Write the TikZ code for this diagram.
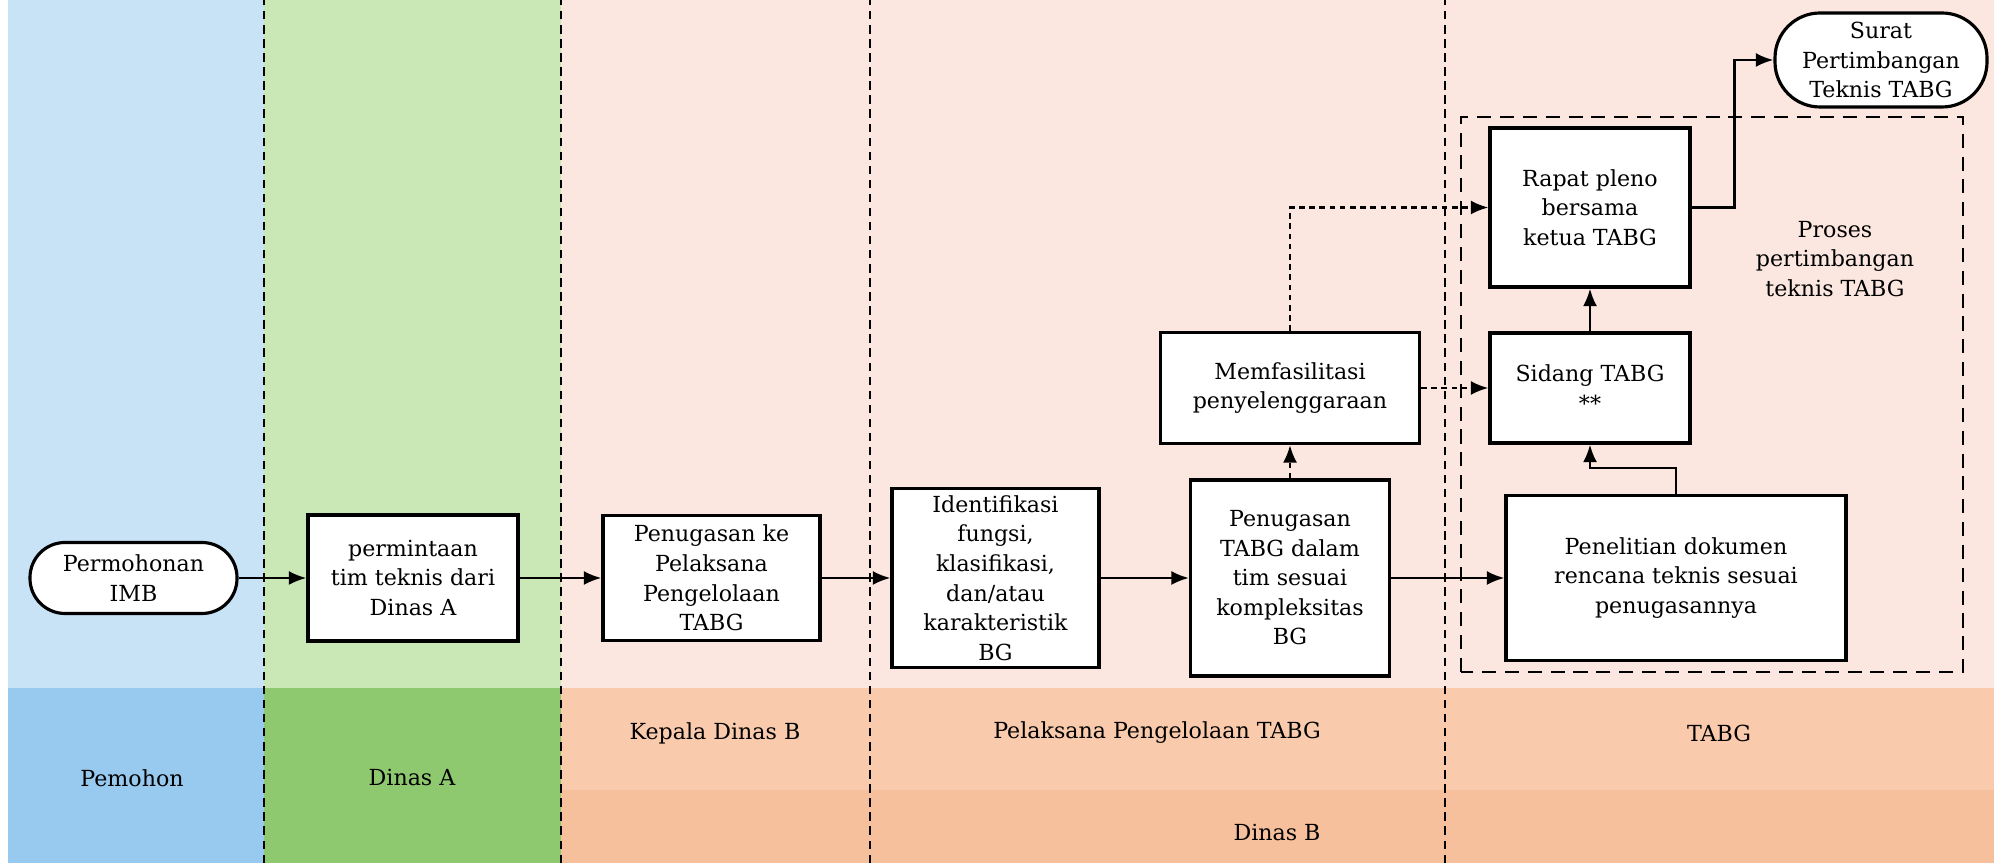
\documentclass[tikz,border=0pt]{standalone}
\usepackage{fontspec}
\usepackage{xcolor}
\usepackage{tikz}
\usetikzlibrary{arrows.meta,positioning,calc}

\newfontfamily\diagfont{DejaVu Serif}
\newcommand{\flowfont}{\diagfont\fontsize{6.3}{8.4}\selectfont}

\definecolor{pemohonTop}{RGB}{201,227,246}
\definecolor{pemohonBot}{RGB}{152,201,238}
\definecolor{dinasATop}{RGB}{201,232,181}
\definecolor{dinasABot}{RGB}{142,201,112}
\definecolor{dinasBTop}{RGB}{251,231,223}
\definecolor{dinasBMid}{RGB}{249,203,172}
\definecolor{dinasBBot}{RGB}{247,192,157}

\begin{document}
\begin{tikzpicture}[
  arr/.style={-{Latex[length=5pt,width=4pt]}, line width=0.7pt},
  dotarr/.style={arr, dash pattern=on 1.6pt off 1.3pt},
  box/.style={rectangle, draw, line width=0.9pt, fill=white, align=center,
              inner sep=2pt, font=\flowfont},
  term/.style={box, rounded corners=0.35cm},
  lane/.style={line width=0.6pt, dash pattern=on 2.4pt off 1.6pt},
  lanelabel/.style={font=\flowfont},
]
\useasboundingbox (0,0) rectangle (19.94,8.63);

% Swimlane backgrounds
\fill[pemohonTop] (0.08,1.75) rectangle (2.64,8.63);
\fill[dinasATop] (2.64,1.75) rectangle (5.61,8.63);
\fill[dinasBTop] (5.61,1.75) rectangle (19.94,8.63);
\fill[pemohonBot] (0.08,0) rectangle (2.64,1.75);
\fill[dinasABot] (2.64,0) rectangle (5.61,1.75);
\fill[dinasBMid] (5.61,0.73) rectangle (19.94,1.75);
\fill[dinasBBot] (5.61,0) rectangle (19.94,0.73);

% Lane separators
\foreach \lx in {2.64,5.61,8.70,14.45}
  \draw[lane] (\lx,0) -- (\lx,8.63);

% Lane names
\node[lanelabel] (lPemohon) at (1.32,0.85) {Pemohon};
\node[lanelabel] (lDinasA) at (4.12,0.85) {Dinas A};
\node[lanelabel] (lKepala) at (7.15,1.30) {Kepala Dinas B};
\node[lanelabel] (lPelaksana) at (11.57,1.30) {Pelaksana Pengelolaan TABG};
\node[lanelabel] (lTabg) at (17.19,1.30) {TABG};
\node[lanelabel] (lDinasB) at (12.77,0.30) {Dinas B};

% Process group
\draw[line width=0.8pt, dash pattern=on 4pt off 2.5pt] (14.61,1.91) rectangle (19.63,7.46);
\node[lanelabel, align=center] (proses) at (18.35,6.04) {Proses\\pertimbangan\\teknis TABG};

% Steps
\node[term, minimum width=2.07cm, minimum height=0.71cm] (imb) at (1.335,2.85) {Permohonan\\IMB};
\node[box, minimum width=2.10cm, minimum height=1.26cm] (req) at (4.13,2.85) {permintaan\\tim teknis dari\\Dinas A};
\node[box, minimum width=2.17cm, minimum height=1.25cm] (assign) at (7.115,2.85) {Penugasan ke\\Pelaksana\\Pengelolaan\\TABG};
\node[box, minimum width=2.07cm, minimum height=1.79cm] (ident) at (9.955,2.85) {Identifikasi\\fungsi,\\klasifikasi,\\dan/atau\\karakteristik\\BG};
\node[box, minimum width=1.99cm, minimum height=1.96cm] (team) at (12.90,2.85) {Penugasan\\TABG dalam\\tim sesuai\\kompleksitas\\BG};
\node[box, minimum width=2.59cm, minimum height=1.11cm] (facil) at (12.90,4.75) {Memfasilitasi\\penyelenggaraan};
\node[box, minimum width=3.40cm, minimum height=1.65cm] (research) at (16.76,2.85) {Penelitian dokumen\\rencana teknis sesuai\\penugasannya};
\node[box, minimum width=2.00cm, minimum height=1.10cm] (sidang) at (15.90,4.75) {Sidang TABG\\**};
\node[box, minimum width=2.00cm, minimum height=1.59cm] (pleno) at (15.90,6.555) {Rapat pleno\\bersama\\ketua TABG};
\node[term, minimum width=2.12cm, minimum height=0.94cm, rounded corners=0.45cm] (letter) at (18.81,8.03) {Surat\\Pertimbangan\\Teknis TABG};

% Main flow
\draw[arr] (imb) -- (req);
\draw[arr] (req) -- (assign);
\draw[arr] (assign) -- (ident);
\draw[arr] (ident) -- (team);
\draw[arr] (team) -- (research);

% Facilitation
\draw[dotarr] (team) -- (facil);
\draw[dotarr] (facil) -- (sidang);
\draw[dotarr] (facil.north) |- (pleno.west);

% TABG sessions
\draw[arr] (research.north) -- ++(0,0.26) -| (sidang.south);
\draw[arr] (sidang) -- (pleno);
\draw[arr] (pleno.east) -- ++(0.43,0) |- (letter.west);
\end{tikzpicture}
\end{document}
